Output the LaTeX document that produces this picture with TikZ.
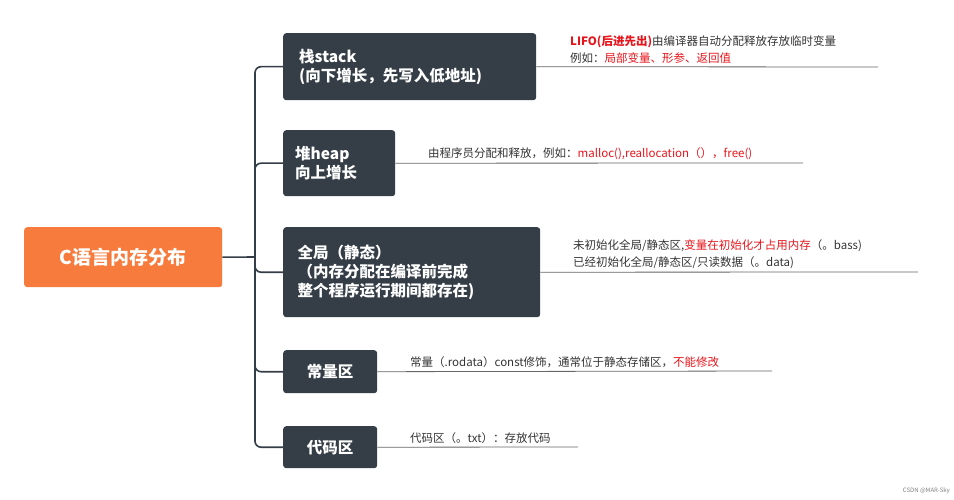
\documentclass[tikz,border=0pt]{standalone}
\usepackage{fontspec}
\setmainfont{Noto Sans CJK SC}
\usetikzlibrary{positioning}
\begin{document}
\begin{tikzpicture}[x=1pt,y=-1pt]

      \definecolor{darkbox}{HTML}{353E47}
      \definecolor{orange}{HTML}{F77B3C}
      \definecolor{linegray}{HTML}{666666}
      \definecolor{textgray}{HTML}{333333}
      \definecolor{hired}{HTML}{E8141B}

      \tikzstyle{topic}   = [rectangle, rounded corners=3pt, fill=darkbox, text=white, font=\bfseries\fontsize{15.5}{19}\selectfont, align=left, inner sep=0pt, anchor=north west]
      \tikzstyle{branch}  = [line width=1.6pt, draw=darkbox, rounded corners=6pt]
      \tikzstyle{underln} = [line width=0.8pt, draw=linegray]
      \tikzstyle{note}    = [anchor=south west, inner sep=0pt, align=left, text=textgray, font=\fontsize{11.5}{17}\selectfont]

      \newcommand{\hl}[1]{\textcolor{hired}{#1}}

      \useasboundingbox (0,0) rectangle (954,500);

      \node [topic, fill=orange, minimum width=198pt, minimum height=60pt, align=center, font=\bfseries\fontsize{19}{23}\selectfont] at (24,227) (root) {C语言内存分布};
      \node [topic, minimum width=253pt, minimum height=67pt, text width=233pt] at (283,33)  (stack)  {\hspace*{6pt}栈stack\\\hspace*{6pt}(向下增长，先写入低地址)};
      \node [topic, minimum width=112pt, minimum height=66pt, text width=100pt] at (283,130) (heap)   {\hspace*{6pt}堆heap\\\hspace*{6pt}向上增长};
      \node [topic, minimum width=257pt, minimum height=90pt, text width=240pt] at (283,227) (global) {\hspace*{6pt}全局（静态）\\\hspace*{6pt}（内存分配在编译前完成\\\hspace*{6pt}整个程序运行期间都存在)};
      \node [topic, minimum width=94pt,  minimum height=43pt, align=center]     at (283,350) (const)  {常量区};
      \node [topic, minimum width=94pt,  minimum height=42pt, align=center]     at (283,426) (code)   {代码区};

      % tree
      \coordinate (trunk) at (255,257);
      \draw [branch] (root.east) -- (trunk);
      \foreach \t in {stack,heap,global,const,code}
        \draw [branch] (trunk) |- (\t.west);

      % underlines
      \coordinate (stackend)  at (878,67);
      \coordinate (heapend)   at (803,163);
      \coordinate (globalend) at (918,272);
      \coordinate (constend)  at (772,371);
      \coordinate (codeend)   at (578,447);
      \draw [underln] (stack.east)  -- (stackend);
      \draw [underln] (heap.east)   -- (heapend);
      \draw [underln] (global.east) -- (globalend);
      \draw [underln] (const.east)  -- (constend);
      \draw [underln] (code.east)   -- (codeend);

      \node [note] at (570,64)  (stacknote)  {\hl{\bfseries LIFO(后进先出)}由编译器自动分配释放存放临时变量\\例如：\hl{局部变量、形参、返回值}};
      \node [note] at (428,160) (heapnote)   {由程序员分配和释放，例如：\hl{malloc(),reallocation（），free()}};
      \node [note] at (573,269) (globalnote) {未初始化全局/静态区,\hl{变量在初始化才占用内存}（。bass)\\已经初始化全局/静态区/只读数据（。data)};
      \node [note] at (410,368) (constnote)  {常量（.rodata）const修饰，通常位于静态存储区，\hl{不能修改}};
      \node [note] at (410,444) (codenote)   {代码区（。txt）：存放代码};

      \node [anchor=east, inner sep=0pt, text=gray, font=\fontsize{6}{7}\selectfont] at (950,491) (mark) {CSDN @MAR-Sky};

    \end{tikzpicture}
\end{document}
